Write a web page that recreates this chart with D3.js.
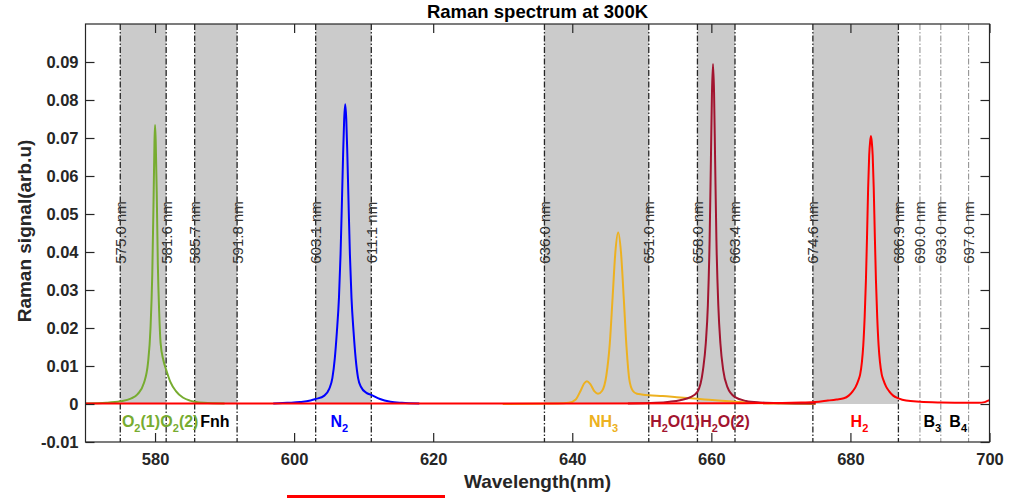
<!DOCTYPE html>
<html>
<head>
<meta charset="utf-8">
<script src="https://cdn.jsdelivr.net/npm/d3@7"></script>
<style>
  html, body { margin: 0; padding: 0; background: #fff; }
  svg { display: block; font-family: "Liberation Sans", Arial, sans-serif; }
</style>
</head>
<body>
<svg id="chart" width="1009" height="498"></svg>
<script>
// Raman spectra of the gas species, [wavelength nm, signal arb.u]
const o2Data = [
  [570, 0.0001], [573, 0.0003], [575, 0.0007], [576.5, 0.0014], [577.5, 0.0026],
  [578.4, 0.0055], [579.0, 0.011], [579.35, 0.02], [579.6, 0.034], [579.8, 0.055],
  [579.92, 0.069], [580.0, 0.0734], [580.1, 0.069], [580.25, 0.055], [580.4, 0.037],
  [580.6, 0.024], [580.8, 0.016], [581.2, 0.0115], [581.6, 0.009], [582.2, 0.0058],
  [583, 0.0034], [584, 0.0017], [585, 0.0009], [585.7, 0.0006], [587, 0.0003], [590, 0.0001]
];
const n2Data = [
  [597, 0.0001], [599, 0.0003], [600.85, 0.0005], [602.35, 0.0009], [603.1, 0.0013],
  [604.35, 0.0022], [605.05, 0.004], [605.5, 0.0068], [605.85, 0.012], [606.15, 0.019],
  [606.45, 0.028], [606.68, 0.0395], [606.9, 0.055], [607.05, 0.066], [607.2, 0.075],
  [607.35, 0.0789], [607.5, 0.075], [607.65, 0.066], [607.8, 0.055], [608.02, 0.0395],
  [608.25, 0.028], [608.55, 0.019], [608.85, 0.012], [609.2, 0.0068], [609.65, 0.0044],
  [610.35, 0.003], [611.1, 0.0024], [612.35, 0.0013], [613.85, 0.0006], [615.5, 0.0003], [618, 0.0001]
];
const nh3Data = [
  [630, 0.0], [638, 0.0001], [639.5, 0.0003], [640.5, 0.0012], [641.2, 0.0035],
  [641.7, 0.0054], [642.1, 0.006], [642.6, 0.0052], [643.2, 0.0033], [643.7, 0.0027],
  [644.3, 0.0035], [644.9, 0.0075], [645.4, 0.016], [645.8, 0.028], [646.2, 0.04],
  [646.6, 0.0451], [647.0, 0.04], [647.4, 0.028], [647.8, 0.015], [648.2, 0.0065],
  [648.7, 0.0035], [649.3, 0.0027], [650, 0.0025], [651, 0.0023], [653, 0.0021],
  [655, 0.0018], [657, 0.0015], [659, 0.0012], [661, 0.0009], [663.4, 0.0006],
  [666, 0.0003], [670, 0.0001], [675, 0.0]
];
const h2oData = [
  [648, 0.0001], [652, 0.0003], [654, 0.0006], [655.5, 0.001], [657, 0.0018],
  [658, 0.0032], [658.8, 0.009], [659.2, 0.016], [659.5, 0.026], [659.75, 0.043],
  [659.94, 0.0645], [660.09, 0.082], [660.24, 0.0895], [660.39, 0.082], [660.54, 0.0645],
  [660.73, 0.043], [661.0, 0.026], [661.3, 0.016], [661.7, 0.009], [662.3, 0.0045],
  [663.4, 0.0018], [665, 0.0008], [667, 0.0004], [670, 0.0002], [675, 0.0001]
];
const h2Data = [
  [570, 0.0001], [600, 0.0001], [640, 0.0001], [665, 0.0002], [672.95, 0.0004],
  [674.95, 0.0005], [676.75, 0.0009], [678.0, 0.0012], [679.05, 0.0015], [679.75, 0.0022],
  [680.35, 0.0034], [680.75, 0.0045], [681.15, 0.0063], [681.4, 0.0078], [681.65, 0.011],
  [681.85, 0.0155], [682.05, 0.023], [682.23, 0.0326], [682.4, 0.045], [682.55, 0.057],
  [682.7, 0.0655], [682.83, 0.069], [682.95, 0.0705], [683.07, 0.069], [683.2, 0.0655],
  [683.35, 0.057], [683.5, 0.045], [683.67, 0.0326], [683.85, 0.023], [684.05, 0.0155],
  [684.25, 0.011], [684.5, 0.0078], [684.75, 0.0063], [685.15, 0.0045], [685.55, 0.0034],
  [686.15, 0.0022], [686.9, 0.0015], [688, 0.0009], [690, 0.0006], [693, 0.0004],
  [697, 0.0003], [698.5, 0.0003], [699.3, 0.0005], [699.8, 0.0009], [700, 0.001]
];
const seriesColors = ["#77ac30", "#0000ff", "#edb120", "#a2142f", "#ff0000"];

// Filter pass-bands (shaded from zero signal upward) and marker wavelengths
const bands = [[575.0, 581.6], [585.7, 591.8], [603.1, 611.1], [636.0, 651.0], [658.0, 663.4], [674.6, 686.9]];
const markerLines = [575.0, 581.6, 585.7, 591.8, 603.1, 611.1, 636.0, 651.0, 658.0, 663.4, 674.6, 686.9, 690.0, 693.0, 697.0];
const faintLines = [690.0, 693.0, 697.0];

// Channel names written under the spectra: [name, subscript, suffix, centre nm, colour]
const channelNames = [
  ["O", "2", "(1)", 577.98, "#77ac30"],
  ["O", "2", "(2)", 583.5, "#77ac30"],
  ["Fnh", "", "", 588.6, "#000000"],
  ["N", "2", "", 606.5, "#0000ff"],
  ["NH", "3", "", 644.5, "#edb120"],
  ["H", "2", "O(1)", 654.77, "#a2142f"],
  ["H", "2", "O(2)", 661.96, "#a2142f"],
  ["H", "2", "", 681.3, "#ff0000"],
  ["B", "3", "", 691.77, "#000000"],
  ["B", "4", "", 695.5, "#000000"]
];

const xTicks = [580, 600, 620, 640, 660, 680, 700];
const xTickLabels = ["580", "600", "620", "640", "660", "680", "700"];
const yTicks = [-0.01, 0, 0.01, 0.02, 0.03, 0.04, 0.05, 0.06, 0.07, 0.08, 0.09];
const yTickLabels = ["-0.01", "0", "0.01", "0.02", "0.03", "0.04", "0.05", "0.06", "0.07", "0.08", "0.09"];

const svg = d3.select("#chart");
const m = { left: 85.5, top: 24, right: 989.5, bottom: 442 };
const x = d3.scaleLinear().domain([570, 700]).range([m.left, m.right]);
const y = d3.scaleLinear().domain([-0.01, 0.1]).range([m.bottom, m.top]);

const clipId = "plotclip";
svg.append("defs").append("clipPath").attr("id", clipId)
  .append("rect").attr("x", m.left).attr("y", m.top)
  .attr("width", m.right - m.left).attr("height", m.bottom - m.top);

// shaded bands
svg.append("g").selectAll("rect").data(bands).join("rect")
  .attr("x", d => x(d[0])).attr("y", m.top)
  .attr("width", d => x(d[1]) - x(d[0])).attr("height", y(0) - m.top)
  .attr("fill", "#cbcbcb");

// dash-dot marker lines
svg.append("g").selectAll("line").data(markerLines).join("line")
  .attr("x1", d => x(d)).attr("x2", d => x(d))
  .attr("y1", m.top).attr("y2", m.bottom)
  .attr("stroke", d => faintLines.includes(d) ? "#8a8a8a" : "#262626")
  .attr("stroke-width", d => faintLines.includes(d) ? 1 : 1.3)
  .attr("stroke-dasharray", "6,2,1.5,2");

// marker labels
svg.append("g").selectAll("text").data(markerLines).join("text")
  .attr("transform", d => `translate(${x(d)},232.5) rotate(-90)`)
  .attr("text-anchor", "middle").attr("dominant-baseline", "central")
  .attr("font-size", "15px").attr("fill", "#333")
  .text(d => d3.format(".1f")(d) + " nm");

// spectra
const line = d3.line().x(d => x(d[0])).y(d => y(d[1])).curve(d3.curveMonotoneX);
const gLines = svg.append("g").attr("clip-path", `url(#${clipId})`);
[o2Data, n2Data, nh3Data, h2oData, h2Data].forEach((s, i) => {
  gLines.append("path").datum(s).attr("d", line)
    .attr("fill", "none").attr("stroke", seriesColors[i])
    .attr("stroke-width", 2).attr("stroke-linejoin", "round");
});

// channel names
const gNames = svg.append("g").attr("font-weight", "bold").attr("font-size", "16px");
channelNames.forEach(c => {
  const t = gNames.append("text").attr("x", x(c[3])).attr("y", 427)
    .attr("text-anchor", "middle").attr("fill", c[4]);
  t.append("tspan").text(c[0]);
  if (c[1]) t.append("tspan").attr("font-size", "11px").attr("dy", 5).text(c[1]);
  if (c[2]) t.append("tspan").attr("dy", c[1] ? -5 : 0).text(c[2]);
});

// axes with inward ticks
const axisColor = "#262626";
const styleAxis = g => {
  g.select(".domain").remove();
  g.selectAll(".tick line").attr("stroke", axisColor).attr("stroke-width", 1.2);
  g.selectAll(".tick text").attr("fill", "#262626").attr("font-weight", "bold")
    .attr("font-size", "16.5px").attr("font-family", "Liberation Sans, Arial, sans-serif");
};
svg.append("g").attr("transform", `translate(0,${m.bottom})`)
  .call(d3.axisBottom(x).tickValues(xTicks).tickFormat((d, i) => xTickLabels[i])
    .tickSizeInner(-9).tickSizeOuter(0).tickPadding(11))
  .call(styleAxis);
svg.append("g").attr("transform", `translate(0,${m.top})`)
  .call(d3.axisTop(x).tickValues(xTicks).tickFormat("").tickSizeInner(-9).tickSizeOuter(0))
  .call(styleAxis);
svg.append("g").attr("transform", `translate(${m.left},0)`)
  .call(d3.axisLeft(y).tickValues(yTicks).tickFormat((d, i) => yTickLabels[i])
    .tickSizeInner(-9).tickSizeOuter(0).tickPadding(7))
  .call(styleAxis);
svg.append("g").attr("transform", `translate(${m.right},0)`)
  .call(d3.axisRight(y).tickValues(yTicks).tickFormat("").tickSizeInner(-9).tickSizeOuter(0))
  .call(styleAxis);

// axes box
svg.append("rect").attr("x", m.left).attr("y", m.top)
  .attr("width", m.right - m.left).attr("height", m.bottom - m.top)
  .attr("fill", "none").attr("stroke", axisColor).attr("stroke-width", 1.2);

// titles
svg.append("text").attr("x", (m.left + m.right) / 2).attr("y", 18)
  .attr("text-anchor", "middle").attr("font-weight", "bold").attr("font-size", "18.5px")
  .attr("fill", "#000").text("Raman spectrum at 300K");
svg.append("text").attr("x", (m.left + m.right) / 2).attr("y", 488)
  .attr("text-anchor", "middle").attr("font-weight", "bold").attr("font-size", "19px")
  .attr("fill", "#262626").text("Wavelength(nm)");
svg.append("text").attr("transform", "translate(31,231) rotate(-90)")
  .attr("text-anchor", "middle").attr("font-weight", "bold").attr("font-size", "19px")
  .attr("fill", "#262626").text("Raman signal(arb.u)");

// legend swatch peeking in at the lower edge
svg.append("line").attr("x1", 287).attr("x2", 445).attr("y1", 496.5).attr("y2", 496.5)
  .attr("stroke", "#ff0000").attr("stroke-width", 3);
</script>
</body>
</html>
